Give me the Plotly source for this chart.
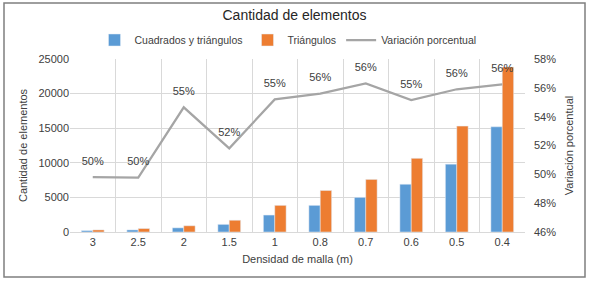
import plotly.graph_objects as go

categories = ["3", "2.5", "2", "1.5", "1", "0.8", "0.7", "0.6", "0.5", "0.4"]
cuadrados_triangulos = [200, 300, 600, 1100, 2450, 3850, 5000, 6900, 9800, 15200]
triangulos = [300, 500, 900, 1700, 3850, 6000, 7600, 10650, 15300, 23850]
variacion = [0.498, 0.4977, 0.5465, 0.518, 0.552, 0.556, 0.563, 0.5515, 0.559, 0.5624]

font = "Liberation Sans, Arial, sans-serif"
txt = "#404040"

fig = go.Figure()
fig.add_trace(go.Bar(x=categories, y=cuadrados_triangulos, name="Cuadrados y triángulos",
                     marker_color="#5B9BD5"))
fig.add_trace(go.Bar(x=categories, y=triangulos, name="Triángulos",
                     marker_color="#ED7D31"))
fig.add_trace(go.Scatter(x=categories, y=variacion, name="Variación porcentual",
                         mode="lines+markers+text", yaxis="y2",
                         line=dict(color="#A5A5A5", width=2.25),
                         marker=dict(size=14, color="rgba(0,0,0,0)"),
                         texttemplate="%{y:.0%}", textposition="top center",
                         textfont=dict(size=11, color=txt, family=font)))

L, R, T, B = 70, 64, 59, 50
W, H = 589, 282
pw, ph = W - L - R, H - T - B

def px(x):
    return (x - L) / pw

def py(y):
    return (H - B - y) / ph

fig.update_layout(
    width=W, height=H,
    margin=dict(l=L, r=R, t=T, b=B),
    paper_bgcolor="white", plot_bgcolor="white",
    font=dict(family=font, size=11, color=txt),
    barmode="group", bargap=0.5, bargroupgap=0,
    title=dict(text="Cantidad de elementos", x=0.5, xanchor="center",
               y=1 - 15 / H, yanchor="middle", font=dict(size=14, color="#262626")),
    legend=dict(orientation="h", x=px(288), xanchor="center", y=py(40), yanchor="middle",
                font=dict(size=10.5, color=txt), itemwidth=30, traceorder="normal",
                bgcolor="rgba(0,0,0,0)"),
    showlegend=True,
    xaxis=dict(type="category", range=[-0.5, len(categories) - 0.5], tickson="boundaries",
               showgrid=True, gridcolor="#D9D9D9",
               ticks="", showline=True, linecolor="#D9D9D9",
               title=dict(text="Densidad de malla (m)", standoff=8, font=dict(size=11)),
               tickfont=dict(size=11)),
    yaxis=dict(range=[0, 25000], dtick=5000, showgrid=True, gridcolor="#D9D9D9",
               zeroline=False, ticks="", tickformat="d",
               title=dict(text="Cantidad de elementos", standoff=8, font=dict(size=11)),
               tickfont=dict(size=11)),
    yaxis2=dict(range=[0.46, 0.58], dtick=0.02, overlaying="y", side="right",
                tickformat=".0%", showgrid=False, zeroline=False, ticks="",
                ticklabelstandoff=8,
                title=dict(text="Variación porcentual", standoff=10, font=dict(size=11)),
                tickfont=dict(size=11)),
    shapes=[dict(type="rect", xref="paper", yref="paper",
                 x0=px(4), x1=px(585), y0=py(277), y1=py(3),
                 line=dict(color="#7F7F7F", width=1.5), fillcolor="rgba(0,0,0,0)", layer="below")],
)

fig.write_html("out.html", config={"displayModeBar": False},
               post_script="document.body.style.margin='0';document.body.style.overflow='hidden';")
